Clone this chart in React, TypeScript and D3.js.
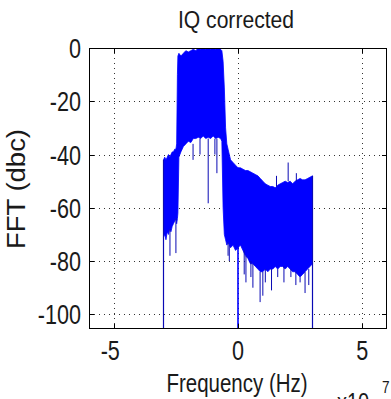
import React from 'react';
import * as d3 from 'd3';

// Frequency in units of 1e7 Hz, levels in dBc
const envFreq = [
  -3.0, -2.95, -2.9, -2.85, -2.8, -2.75, -2.7, -2.65, -2.6, -2.55, -2.5, -2.47, -2.44, -2.42,
  -2.38, -2.3, -2.2, -2.1, -2.0, -1.9, -1.8, -1.7, -1.6, -1.5, -1.4, -1.3, -1.2, -1.1, -1.0,
  -0.9, -0.8, -0.7, -0.65, -0.6, -0.55, -0.5, -0.45, -0.4, -0.3, -0.2, -0.1, 0.0, 0.1, 0.2,
  0.3, 0.4, 0.5, 0.6, 0.7, 0.8, 0.9, 1.0, 1.1, 1.2, 1.3, 1.4, 1.5, 1.6, 1.7, 1.8, 1.9, 2.0,
  2.1, 2.2, 2.3, 2.4, 2.5, 2.6, 2.7, 2.8, 2.9, 3.0,
];
const envUpper = [
  -42, -41, -42, -41, -40, -41, -40, -39, -39, -38, -38, -36, -10, -3,
  -2, -3, -2, -1, -1.5, -1, -0.5, -1, 0, -0.5, 0, -0.5, 0, -0.5, 0,
  -0.5, 0, -0.5, -1, -5, -15, -30, -36, -38, -42, -43, -44, -45, -45, -45.5,
  -46, -46, -46.5, -47, -47.5, -48, -49, -50, -51, -51.5, -52, -52, -52.5, -51.5, -51, -50.5, -50, -50.5,
  -50, -51, -50, -49.5, -49, -49.5, -49.5, -49, -48.5, -48,
];
const envLower = [
  -71, -70, -72, -69, -70, -68, -69, -67, -66, -65, -64, -66, -64, -62,
  -41, -39, -37, -36, -35, -35.5, -34, -34, -33.5, -34, -33, -34, -33.5, -34, -33,
  -34, -33.5, -34, -35, -60, -70, -72, -74, -73, -75, -74, -76, -75, -74, -76,
  -78, -79, -81, -81, -82, -83, -84, -84, -83, -84, -83, -83, -82, -83, -82, -82, -83, -82,
  -83, -84, -84, -85, -86, -85, -84, -83, -82, -81,
];

// Isolated spikes: frequency, start level, end level
const spikeFreq = [-2.74, -2.5, -1.81, -1.53, -1.2, -0.93, -0.85, -0.4, -0.35, 0.25, 0.32, 0.52, 0.6, 0.89, 1.0, 1.1, 1.35, 1.6, 1.85, 2.13, 2.33, 2.5, 2.7, 2.85, 2.02, 1.55, 2.35];
const spikeFrom = [-68, -64, -36, -34, -34, -34, -34, -73, -74, -76, -78, -80, -81, -84, -84, -83, -83, -83, -82, -83, -84, -86, -84, -83, -50, -52, -50];
const spikeTo = [-78, -77, -42, -40, -58.3, -40, -47, -78, -80, -85, -88, -86, -90, -95.4, -93, -88, -91, -86, -88, -86, -89, -88, -92, -89, -43, -48, -47];

// Band edges that drop below the axis
const edgeFreq = [-3, 0, 3];
const edgeTop = [-42, -45, -48];

const xTicks = [-5, 0, 5];
const yTicks = [0, -20, -40, -60, -80, -100];

const W = 391;
const H = 399;
const L = 89, R = 387, T = 48, B = 329;
const FONT = 'Liberation Sans, Arial, Helvetica, sans-serif';
const TICK_FS = 27;
const SX = 0.8;
const INK = '#1a1a1a';

export default function App() {
  const x = d3.scaleLinear().domain([-6, 6]).range([L, R]);
  const y = d3.scaleLinear().domain([-105.5, 0]).range([B, T]);

  const pts = envFreq.map((f, i) => ({ f, u: envUpper[i], l: envLower[i] }));
  const area = d3
    .area<{ f: number; u: number; l: number }>()
    .x((d) => x(d.f))
    .y0((d) => y(d.l))
    .y1((d) => y(d.u));

  const blue = '#0000ff';
  const spikeColor = '#0a0ab4';
  const digitW = 0.556 * TICK_FS * SX;

  return (
    <svg width={W} height={H} style={{ position: 'absolute', left: 0, top: 0, background: '#fff' }}>
      <defs>
        <clipPath id="plot">
          <rect x={L} y={T} width={R - L} height={B - T} />
        </clipPath>
      </defs>
      <rect x={0} y={0} width={W} height={H} fill="#fff" />

      {/* grid */}
      <g stroke="#333" strokeWidth={1} strokeDasharray="1,4">
        {xTicks.map((t) => (
          <line key={'gx' + t} x1={Math.round(x(t)) + 0.5} x2={Math.round(x(t)) + 0.5} y1={T} y2={B} />
        ))}
        {yTicks.map((t) => (
          <line key={'gy' + t} x1={L} x2={R} y1={Math.round(y(t)) + 0.5} y2={Math.round(y(t)) + 0.5} />
        ))}
      </g>

      {/* data */}
      <g clipPath="url(#plot)">
        <path d={area(pts) || ''} fill={blue} stroke={blue} strokeWidth={0.8} />
        {spikeFreq.map((f, i) => (
          <line key={'s' + i} x1={x(f)} x2={x(f)} y1={y(spikeFrom[i])} y2={y(spikeTo[i])} stroke={spikeColor} strokeWidth={1} />
        ))}
        {edgeFreq.map((f, i) => (
          <line key={'e' + i} x1={x(f)} x2={x(f)} y1={y(edgeTop[i])} y2={y(-120)} stroke={i === 1 ? blue : spikeColor} strokeWidth={i === 1 ? 1.6 : 1.2} />
        ))}
      </g>

      {/* box and ticks */}
      <rect x={L + 0.5} y={T + 0.5} width={R - L - 1} height={B - T - 1} fill="none" stroke="#000" strokeWidth={1} />
      <g stroke="#000" strokeWidth={1}>
        {xTicks.map((t) => (
          <g key={'tx' + t}>
            <line x1={Math.round(x(t)) + 0.5} x2={Math.round(x(t)) + 0.5} y1={B} y2={B - 5} />
            <line x1={Math.round(x(t)) + 0.5} x2={Math.round(x(t)) + 0.5} y1={T} y2={T + 5} />
          </g>
        ))}
        {yTicks.map((t) => (
          <g key={'ty' + t}>
            <line x1={L} x2={L + 5} y1={Math.round(y(t)) + 0.5} y2={Math.round(y(t)) + 0.5} />
            <line x1={R} x2={R - 5} y1={Math.round(y(t)) + 0.5} y2={Math.round(y(t)) + 0.5} />
          </g>
        ))}
      </g>

      {/* tick labels */}
      <g fontFamily={FONT} fontSize={TICK_FS} fill={INK}>
        {xTicks.map((t) => {
          const digits = String(Math.abs(t)).length;
          return (
            <g key={'lx' + t} transform={`translate(${x(t) + (digits * digitW) / 2},360) scale(${SX},1)`}>
              <text textAnchor="end">{String(t)}</text>
            </g>
          );
        })}
        {yTicks.map((t) => (
          <g key={'ly' + t} transform={`translate(81,${y(t) + 10}) scale(${SX},1)`}>
            <text textAnchor="end">{String(t)}</text>
          </g>
        ))}
      </g>

      {/* title */}
      <g transform={`translate(236,28) scale(0.88,1)`}>
        <text textAnchor="middle" fontFamily={FONT} fontSize={24} fill={INK}>IQ corrected</text>
      </g>

      {/* x label */}
      <g transform={`translate(237,392) scale(0.82,1)`}>
        <text textAnchor="middle" fontFamily={FONT} fontSize={25} fill={INK}>Frequency (Hz)</text>
      </g>

      {/* exponent */}
      <g transform={`translate(337,411) scale(${SX},1)`}>
        <text fontFamily={FONT} fontSize={25} fill={INK}>x10</text>
      </g>
      <g transform={`translate(382,393) scale(${SX},1)`}>
        <text fontFamily={FONT} fontSize={17} fill={INK}>7</text>
      </g>

      {/* y label */}
      <g transform={`translate(25,189) rotate(-90)`}>
        <text textAnchor="middle" fontFamily={FONT} fontSize={25} fill={INK} textLength={120} lengthAdjust="spacingAndGlyphs">FFT (dbc)</text>
      </g>
    </svg>
  );
}
